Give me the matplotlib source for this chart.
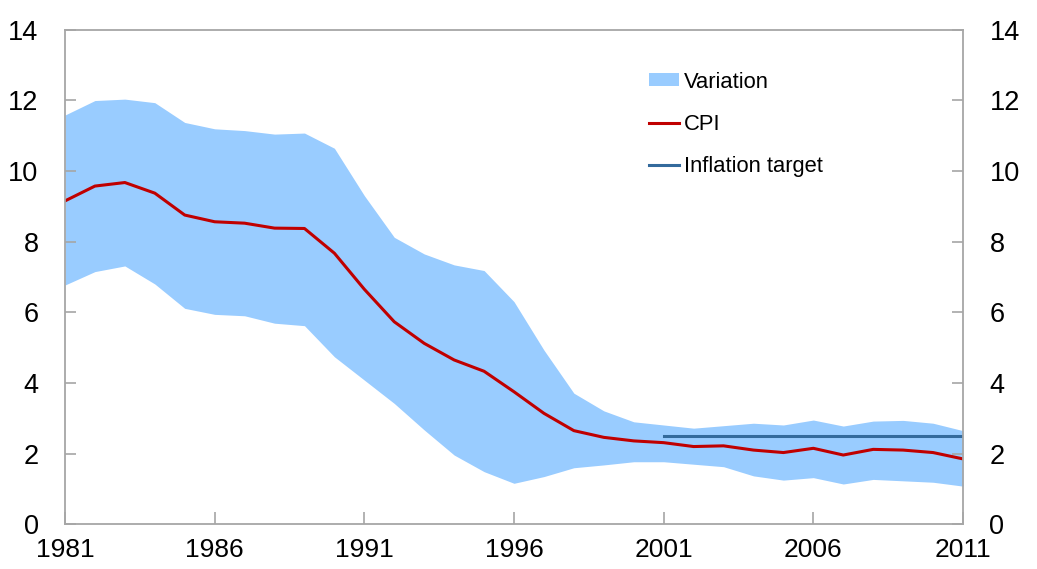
import numpy as np
import matplotlib
matplotlib.use("Agg")
from matplotlib import pyplot as plt
from matplotlib.patches import Patch
from matplotlib.lines import Line2D

plt.rcParams['font.family'] = ['Liberation Sans', 'DejaVu Sans']

years = list(range(1981, 2012))
cpi = [9.15, 9.57, 9.67, 9.37, 8.75, 8.56, 8.52, 8.38, 8.37, 7.67,
       6.65, 5.73, 5.12, 4.65, 4.33, 3.75, 3.14, 2.65, 2.46, 2.36,
       2.31, 2.2, 2.22, 2.1, 2.03, 2.15, 1.96, 2.12, 2.1, 2.03, 1.85]
var_high = [11.58, 11.99, 12.03, 11.93, 11.37, 11.19, 11.14, 11.04, 11.07, 10.64,
            9.3, 8.12, 7.65, 7.34, 7.18, 6.3, 4.93, 3.71, 3.21, 2.9,
            2.81, 2.72, 2.79, 2.86, 2.81, 2.95, 2.78, 2.92, 2.94, 2.86, 2.65]
var_low = [6.77, 7.15, 7.31, 6.8, 6.11, 5.94, 5.9, 5.69, 5.62, 4.74,
           4.08, 3.42, 2.67, 1.96, 1.49, 1.16, 1.35, 1.6, 1.68, 1.77,
           1.77, 1.7, 1.63, 1.37, 1.25, 1.32, 1.14, 1.27, 1.23, 1.19, 1.08]
target_years = [2001, 2011]
target = [2.5, 2.5]

band_col = '#99CCFF'
cpi_col = '#C00000'
target_col = '#336A9C'
spine_col = '#A6A6A6'

fig = plt.figure(figsize=(10.37, 5.69), dpi=100)
ax = fig.add_axes([65 / 1037, 1 - 524.3 / 569, 898 / 1037, 494.8 / 569])

ax.fill_between(years, var_low, var_high, color=band_col, linewidth=0)
ax.plot(years, cpi, color=cpi_col, linewidth=2.2)
ax.plot(target_years, target, color=target_col, linewidth=2.2)

ax.set_xlim(1981, 2011)
ax.set_ylim(0, 14)
ax.set_xticks(range(1981, 2012, 5))
ax.set_yticks(range(0, 15, 2))

for s in ax.spines.values():
    s.set_color(spine_col)
    s.set_linewidth(1.3)

ax.tick_params(axis='y', which='both', direction='in', length=8, width=1.2,
               color=spine_col, left=True, right=True,
               labelleft=True, labelright=True, labelsize=19.5, pad=19)
ax.tick_params(axis='x', direction='in', length=9, width=1.2,
               color=spine_col, top=False, labelsize=19, pad=10)

handles = [Patch(facecolor=band_col, edgecolor='none'),
           Line2D([0], [0], color=cpi_col, linewidth=2.2),
           Line2D([0], [0], color=target_col, linewidth=2.2)]
labels = ['Variation', 'CPI', 'Inflation target']
ax.legend(handles, labels, loc='upper left', bbox_to_anchor=(0.65, 0.915),
          frameon=False, fontsize=15.8, handlelength=1.4, handleheight=0.55,
          handletextpad=0.2, labelspacing=0.97, borderpad=0, borderaxespad=0)

fig.savefig('out.png', dpi=100)
